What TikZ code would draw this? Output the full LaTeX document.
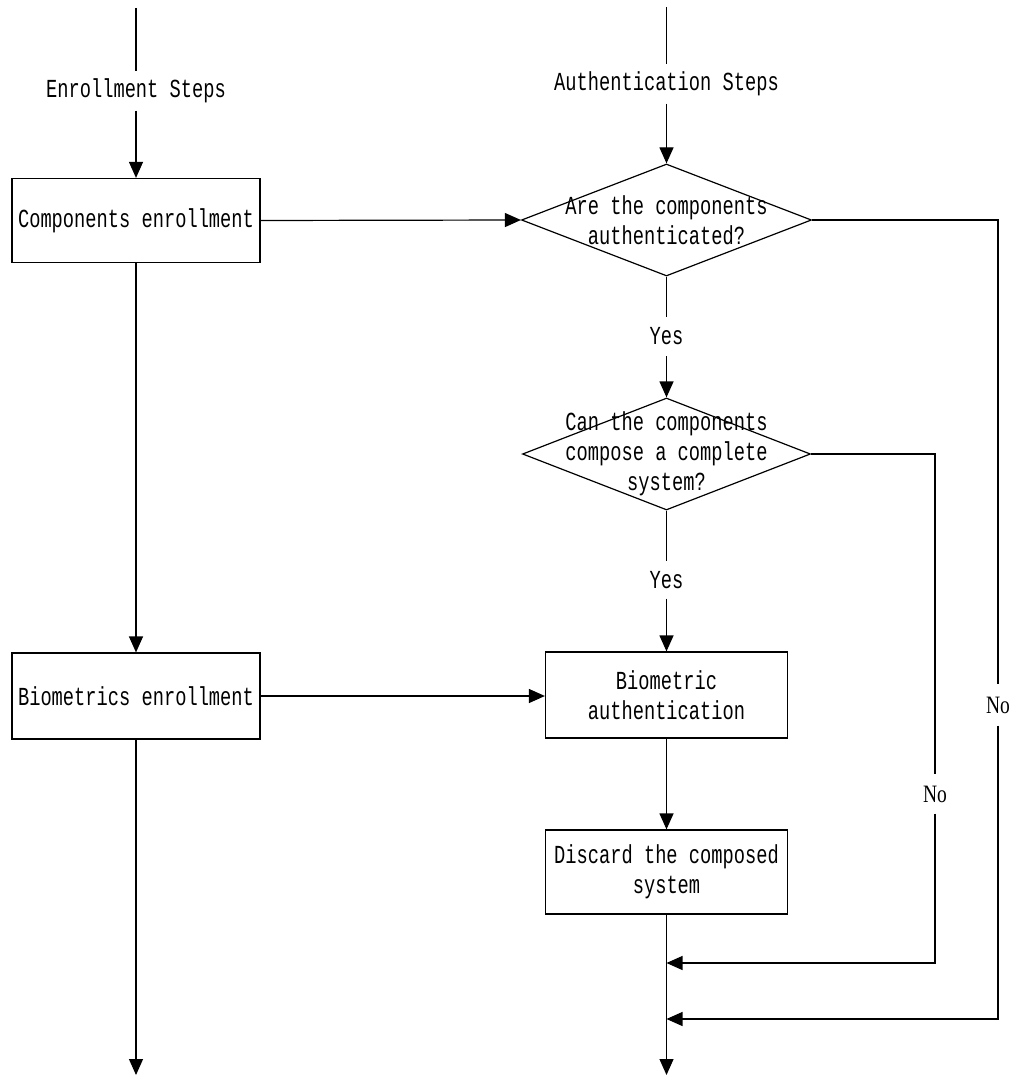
\documentclass[tikz,border=0pt]{standalone}
\usepackage{fontspec}
\usetikzlibrary{shapes.geometric,arrows.meta}
\newfontfamily\flowfont{Liberation Mono}[FakeStretch=0.72]
\newfontfamily\notefont{Liberation Serif}[FakeStretch=0.78]
\begin{document}
\begin{tikzpicture}[x=1pt,y=-1pt,
  line width=1.2pt,
  every node/.style={font=\flowfont\fontsize{26}{30}\selectfont},
  flow/.style={-{Triangle[length=16pt,width=14pt]}},
  proc/.style={draw, rectangle, minimum width=248pt, minimum height=84pt,
    inner sep=0pt, align=center},
  decision/.style={draw, diamond, inner sep=0pt, minimum width=290pt,
    minimum height=112pt, aspect=2.6},
  dtext/.style={align=center, inner sep=0pt},
  gaplabel/.style={inner sep=0pt, minimum height=38pt},
  nolabel/.style={inner sep=0pt, minimum height=40pt,
    font=\notefont\fontsize{25}{28}\selectfont}
]
\useasboundingbox (0,0) rectangle (1012,1078);

% enrollment column
\coordinate (etop) at (136,8);
\node[gaplabel] (elab) at (136,91) {Enrollment Steps};
\node[proc] (cenr) at (136,220.5) {Components enrollment};
\node[proc, minimum height=86pt] (benr) at (136,696) {Biometrics enrollment};
\coordinate (eend) at (136,1075);

% authentication column
\coordinate (atop) at (666.5,7);
\node[gaplabel] (alab) at (666.5,84) {Authentication Steps};
\node[decision] (d1) at (666.5,220) {};
\node[dtext] (d1t) at (666.5,220) {Are the components\\authenticated?};
\node[gaplabel] (yes1) at (666.5,336.5) {Yes};
\node[decision, minimum width=288pt] (d2) at (666.5,454) {};
\node[dtext] (d2t) at (666.5,454) {Can the components\\compose a complete\\system?};
\node[gaplabel, minimum height=36pt] (yes2) at (666.5,580) {Yes};
\node[proc, minimum width=242pt, minimum height=86pt] (bauth) at (666.5,695) {Biometric\\authentication};
\node[proc, minimum width=242pt] (disc) at (666.5,872) {Discard the composed\\system};
\coordinate (j1) at (666.5,963);
\coordinate (j2) at (666.5,1019);
\coordinate (aend) at (666.5,1075);

% "No" branches
\node[nolabel] (no1) at (998,705) {No};
\node[nolabel, minimum height=38pt] (no2) at (935,794) {No};

% enrollment connectors
\draw (etop) -- (elab.north);
\draw[flow] (elab.south) -- (cenr.north);
\draw[flow] (cenr.south) -- (benr.north);
\draw[flow] (benr.south) -- (eend);

% cross links
\draw[flow] (cenr.east) -- (d1.west);
\draw[flow] (benr.east) -- (bauth.west |- benr.east);

% authentication connectors
\draw (atop) -- (alab.north);
\draw[flow] (alab.south) -- (d1.north);
\draw (d1.south) -- (yes1.north);
\draw[flow] (yes1.south) -- (d2.north);
\draw (d2.south) -- (yes2.north);
\draw[flow] (yes2.south) -- (bauth.north);
\draw[flow] (bauth.south) -- (disc.north);
\draw[flow] (disc.south) -- (aend);

% rejection paths
\draw (d1.east) -| (no1.north);
\draw[flow] (no1.south) |- (j2);
\draw (d2.east) -| (no2.north);
\draw[flow] (no2.south) |- (j1);
\end{tikzpicture}
\end{document}
